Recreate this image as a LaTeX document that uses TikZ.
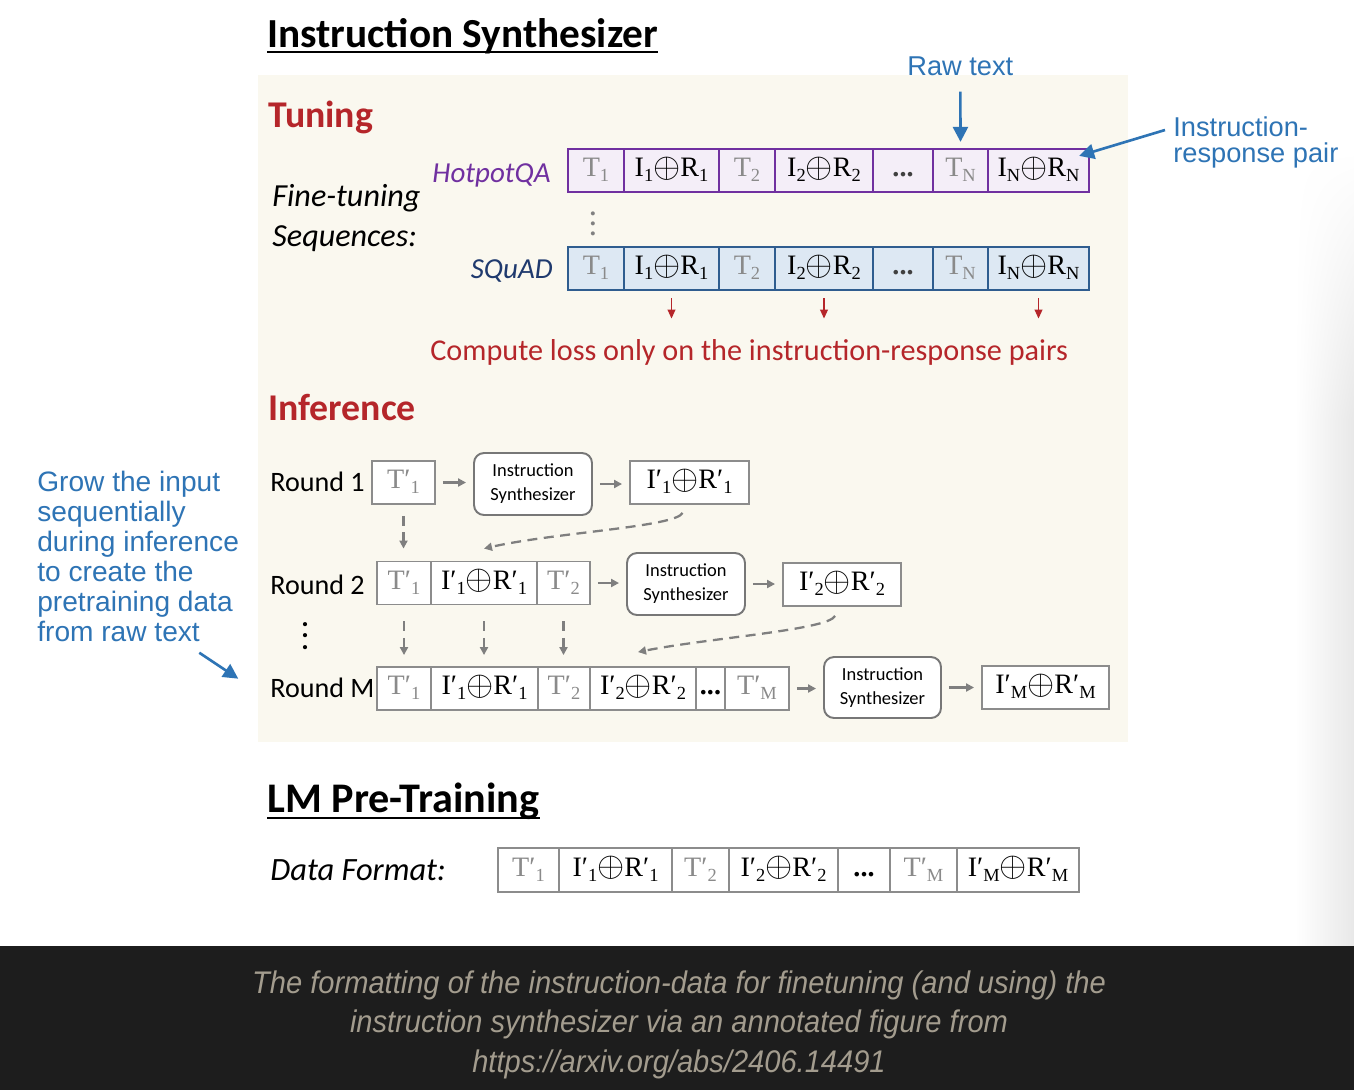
\documentclass[tikz,border=0pt]{standalone}
\usepackage{fontspec}
\usepackage{graphicx}
\usetikzlibrary{calc,arrows.meta,shadings}
\newfontfamily\calib{Carlito}
\newfontfamily\helv{Liberation Sans}
\newfontfamily\tms{Liberation Serif}
\newfontfamily\capfont[FakeStretch=0.93]{Liberation Sans}
\definecolor{panelbg}{HTML}{FAF8EF}
\definecolor{headred}{HTML}{B5262A}
\definecolor{hpline}{HTML}{7030A0}
\definecolor{hpfill}{HTML}{F4EEF8}
\definecolor{sqline}{HTML}{2F5D8F}
\definecolor{sqfill}{HTML}{DDE8F3}
\definecolor{sqtext}{HTML}{1F3A6E}
\definecolor{noteblue}{HTML}{2E74B5}
\definecolor{gline}{HTML}{8C8C8C}
\definecolor{garrow}{HTML}{7F7F7F}
\definecolor{ttxt}{HTML}{8A8A8A}
\definecolor{capbg}{HTML}{1D1D1D}
\definecolor{captxt}{HTML}{A39C8E}
\newcommand{\lsub}[1]{\raisebox{-0.4ex}{\fontsize{10.5}{10.5}\selectfont #1}}
\newcommand{\opl}{\raisebox{-0.05ex}{\scalebox{1.15}{$\oplus$}}}
\newcommand{\gT}[1]{\textcolor{ttxt}{#1}}
\newcommand{\vdts}[1]{\vbox{\baselineskip=#1\lineskiplimit=0pt\hbox{.}\hbox{.}\hbox{.}}}

\begin{document}
\begin{tikzpicture}[x=0.02cm,y=-0.02cm,
  txt/.style={inner sep=0pt,anchor=base west},
  hcell/.style={draw=hpline,fill=hpfill,line width=1.3pt,inner sep=0pt,minimum height=0.86cm,text height=10.5pt,text depth=3.5pt,font=\tms\fontsize{16}{16}\selectfont},
  scell/.style={hcell,draw=sqline,fill=sqfill},
  gcell/.style={hcell,draw=gline,fill=white,line width=1.1pt},
  synbox/.style={draw=gline!85!black,fill=white,line width=1.1pt,rounded corners=0.2cm,minimum width=2.36cm,minimum height=1.24cm,align=center,inner sep=0pt,font=\calib\fontsize{10.5}{13.6}\selectfont},
  garr/.style={draw=garrow,line width=1.3pt,-{Triangle[length=0.16cm,width=0.16cm]}},
  gdash/.style={garr,dash pattern=on 0.2cm off 0.13cm},
  redarr/.style={draw=headred,line width=1.1pt,-{Triangle[length=0.18cm,width=0.15cm]}},
  bluearr/.style={draw=noteblue,line width=1.5pt,-{Triangle[length=0.3cm,width=0.3cm]}}]
  \useasboundingbox (0,0) rectangle (1354,1090);
  \fill[white] (0,0) rectangle (1354,946);
  \shade[upper left=white,upper right=white,lower left=white,lower right=black!9] (1295,150) rectangle (1354,420);
  \shade[left color=white,right color=black!9] (1295,420) rectangle (1354,946);
  \fill[panelbg] (258,75) rectangle (1128,742);
  \fill[capbg] (0,946) rectangle (1354,1090);

  % headings
  \node[txt,font=\calib\bfseries\fontsize{23.5}{23.5}\selectfont] (ttl) at (267,47) {Instruction Synthesizer};
  \draw[line width=1.6pt] ($(ttl.base west)+(0,5)$) -- ($(ttl.base east)+(0,5)$);
  \node[txt,font=\calib\bfseries\fontsize{21.5}{21.5}\selectfont,text=headred] (tun) at (268,127) {Tuning};
  \node[txt,font=\calib\bfseries\fontsize{21.5}{21.5}\selectfont,text=headred] (inf) at (268,420) {Inference};
  \node[txt,font=\calib\bfseries\fontsize{24}{24}\selectfont] (lmp) at (267,812) {LM Pre-Training};
  \draw[line width=1.6pt] ($(lmp.base west)+(0,6)$) -- ($(lmp.base east)+(0,6)$);

  % tuning
  \node[inner sep=0pt,anchor=north west,align=left,font=\calib\itshape\fontsize{18.3}{22.7}\selectfont] (fts) at (272,184) {Fine-tuning\\Sequences:};
  \node[inner sep=0pt,anchor=base east,font=\calib\itshape\fontsize{16.5}{16.5}\selectfont,text=hpline] (hpl) at (551,182) {HotpotQA};
  \node[inner sep=0pt,anchor=base east,font=\calib\itshape\fontsize{16.5}{16.5}\selectfont,text=sqtext] (sql) at (553,278) {SQuAD};
  \foreach \i/\xa/\xb/\lab in {1/568/624/{\gT{T\lsub{1}}},2/624/719/{I\lsub{1}\opl R\lsub{1}},3/719/775/{\gT{T\lsub{2}}},4/775/873/{I\lsub{2}\opl R\lsub{2}},5/873/933/{\textcolor{darkgray}{\textbf{...}}},6/933/988/{\gT{T\lsub{N}}},7/988/1089/{I\lsub{N}\opl R\lsub{N}}}{
    \node[hcell,minimum width={(\xb-\xa)*0.02cm}] (hq\i) at ({(\xa+\xb)/2},170.5) {\lab};
    \node[scell,minimum width={(\xb-\xa)*0.02cm}] (sq\i) at ({(\xa+\xb)/2},268.5) {\lab};
  }
  \node[inner sep=0pt,text=gray,font=\tms\bfseries\fontsize{14}{14}\selectfont] (tdots) at (593,224) {\vdts{5.6pt}};
  \node[txt,font=\calib\fontsize{17.2}{17.2}\selectfont,text=headred] (loss) at (430,360) {Compute loss only on the instruction-response pairs};
  \foreach \i in {2,4,7}
    \draw[redarr,shorten <=0.14cm,shorten >=0.4cm] (sq\i.south) -- (sq\i.south |- loss.north);

  % notes
  \node[txt,font=\helv\fontsize{15.5}{15.5}\selectfont,text=noteblue] (raw) at (907,75) {Raw text};
  \draw[bluearr] ($(raw.south)+(0,16)$) -- ($(hq6.north)+(0,-6)$);
  \node[inner sep=0pt,anchor=north west,align=left,font=\helv\fontsize{15.5}{15.3}\selectfont,text=noteblue] (irp) at (1173,116) {Instruction-\\response pair};
  \draw[bluearr] ($(irp.north west)+(-8,14)$) -- ($(hq7.north east)+(-11,8)$);
  \node[inner sep=0pt,anchor=north west,align=left,font=\helv\fontsize{16}{17}\selectfont,text=noteblue] (grow) at (37,471) {Grow the input\\sequentially\\during inference\\to create the\\pretraining data\\from raw text};
  \draw[bluearr] ($(grow.south east)+(-40,11)$) -- ($(grow.south east)+(-1,37)$);

  % inference
  \node[txt,font=\calib\fontsize{16}{16}\selectfont] (rd1) at (270,491) {Round 1};
  \node[txt,font=\calib\fontsize{16}{16}\selectfont] (rd2) at (270,594) {Round 2};
  \node[txt,font=\calib\fontsize{16}{16}\selectfont] (rdm) at (270,697) {Round M};
  \node[inner sep=0pt,font=\calib\bfseries\fontsize{16}{16}\selectfont] (rdots) at (305,636) {\vdts{6.5pt}};

  \node[gcell,minimum width=1.26cm] (r1t) at (403.5,482.5) {\gT{T′\lsub{1}}};
  \node[synbox] (r1syn) at (533,484) {Instruction\\Synthesizer};
  \node[gcell,minimum width=2.38cm] (r1out) at (689.5,482.5) {I′\lsub{1}\opl R′\lsub{1}};

  \foreach \i/\xa/\xb/\lab in {1/377/431/{\gT{T′\lsub{1}}},2/431/537/{I′\lsub{1}\opl R′\lsub{1}},3/537/590/{\gT{T′\lsub{2}}}}
    \node[gcell,minimum width={(\xb-\xa)*0.02cm}] (r2c\i) at ({(\xa+\xb)/2},583) {\lab};
  \node[synbox] (r2syn) at (686,584) {Instruction\\Synthesizer};
  \node[gcell,minimum width=2.36cm] (r2out) at (842,584.5) {I′\lsub{2}\opl R′\lsub{2}};

  \foreach \i/\xa/\xb/\lab in {1/377/431/{\gT{T′\lsub{1}}},2/431/538/{I′\lsub{1}\opl R′\lsub{1}},3/538/590/{\gT{T′\lsub{2}}},4/590/696/{I′\lsub{2}\opl R′\lsub{2}},5/696/725/{\textbf{...}},6/725/789/{\gT{T′\lsub{M}}}}
    \node[gcell,minimum width={(\xb-\xa)*0.02cm}] (rmc\i) at ({(\xa+\xb)/2},688.5) {\lab};
  \node[synbox,minimum width=2.34cm,minimum height=1.22cm] (rmsyn) at (882.5,687.5) {Instruction\\Synthesizer};
  \node[gcell,minimum width=2.54cm] (rmout) at (1045.5,687.5) {I′\lsub{M}\opl R′\lsub{M}};

  \foreach \a/\b in {r1t/r1syn,r1syn/r1out,r2c3/r2syn,r2syn/r2out,rmc6/rmsyn,rmsyn/rmout}
    \draw[garr,shorten <=0.14cm,shorten >=0.14cm] (\a.east) -- (\a.east -| \b.west);
  \draw[gdash,shorten <=0.22cm,shorten >=0.24cm] (r1t.south) -- (r1t.south |- r2c1.north);
  \foreach \i in {1,2,3}
    \draw[gdash,shorten <=0.32cm,shorten >=0.22cm] (r2c\i.south) -- (r2c\i.south |- rmc\i.north);
  \draw[gdash] ($(r1out.south)+(-7,8)$) .. controls ($(r1out.south)+(-14,22)$) and ($(r2c2.north)+(70,-28)$) .. ($(r2c2.north)+(0,-12)$);
  \draw[gdash] ($(r2out.south)+(-7,9)$) .. controls ($(r2out.south)+(-14,23)$) and ($(rmc4.north)+(65,-28)$) .. ($(rmc4.north)+(-5,-14)$);

  % pre-training
  \node[txt,font=\calib\itshape\fontsize{18.5}{18.5}\selectfont] (dfl) at (270,880) {Data Format:};
  \foreach \i/\xa/\xb/\lab in {1/498/559/{\gT{T′\lsub{1}}},2/559/672/{I′\lsub{1}\opl R′\lsub{1}},3/672/729/{\gT{T′\lsub{2}}},4/729/838/{I′\lsub{2}\opl R′\lsub{2}},5/838/890/{\textbf{...}},6/890/957/{\gT{T′\lsub{M}}},7/957/1079/{I′\lsub{M}\opl R′\lsub{M}}}
    \node[gcell,minimum width={(\xb-\xa)*0.02cm},minimum height=0.88cm] (df\i) at ({(\xa+\xb)/2},870) {\lab};

  % caption
  \node[inner sep=0pt,anchor=north,align=center,text=captxt,font=\capfont\itshape\fontsize{17.8}{22.7}\selectfont] (cap) at (679,970) {The formatting of the instruction-data for finetuning (and using) the\\instruction synthesizer via an annotated figure from\\https://arxiv.org/abs/2406.14491};
\end{tikzpicture}
\end{document}
